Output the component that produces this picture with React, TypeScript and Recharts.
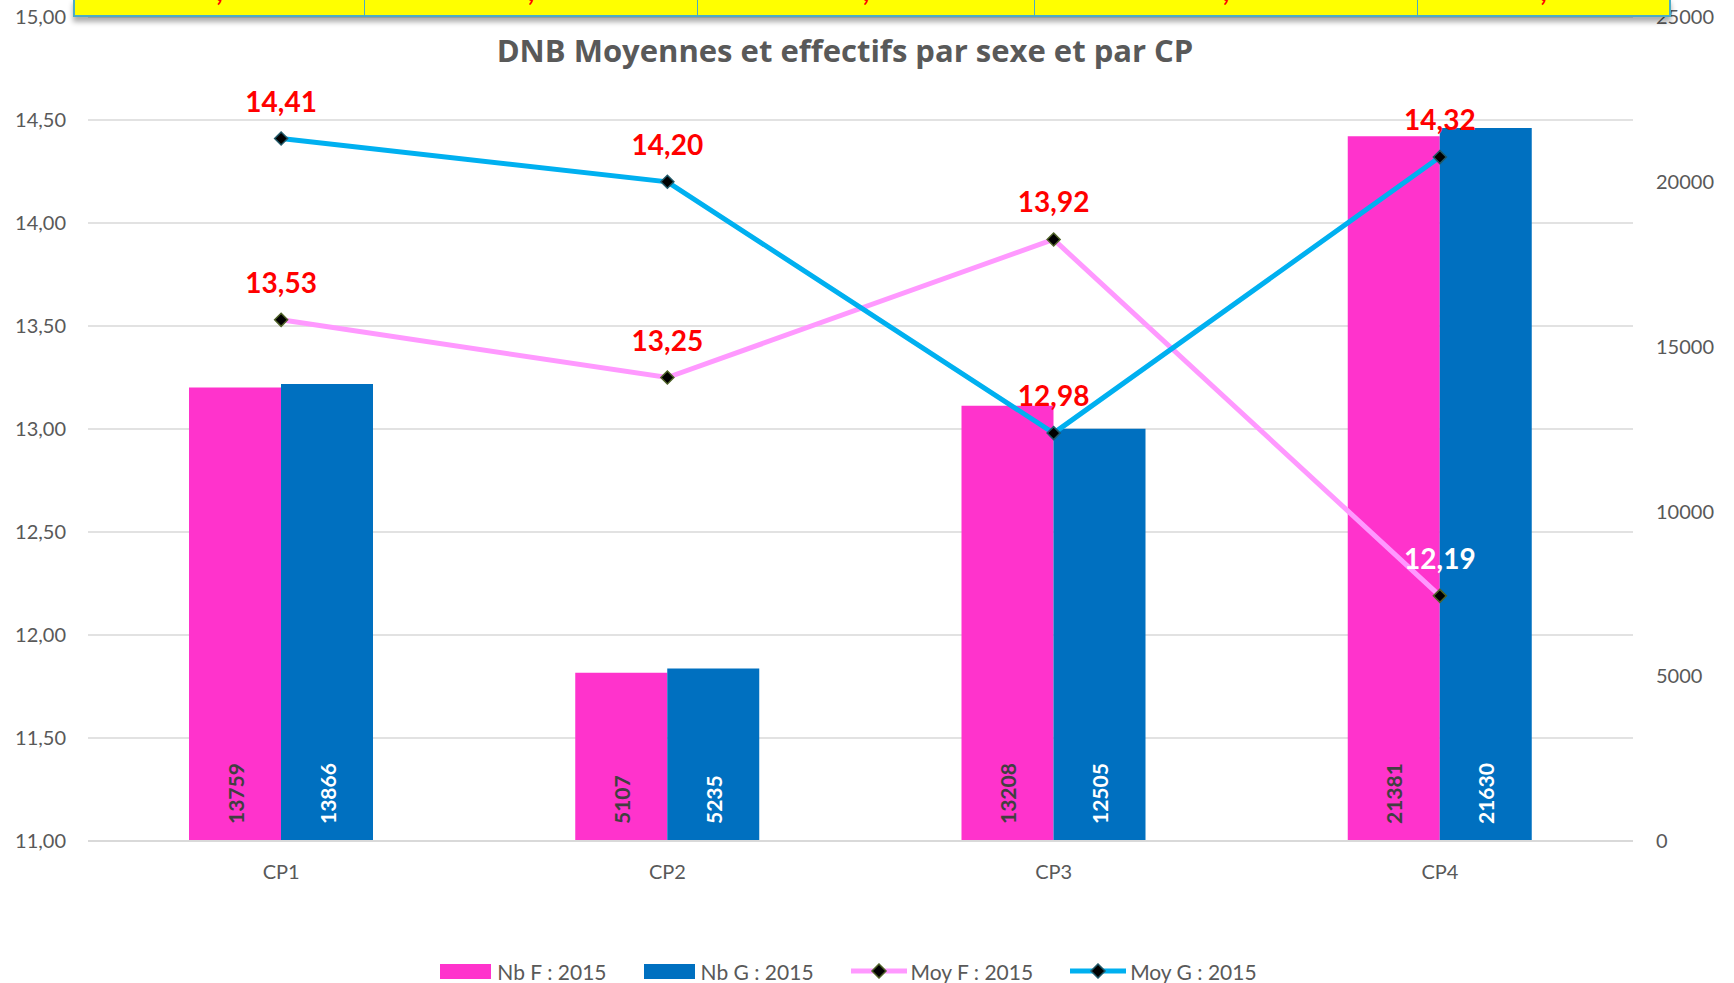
import React from "react";
import {
  ComposedChart,
  Bar,
  Line,
  XAxis,
  YAxis,
  CartesianGrid,
  LabelList,
  Legend,
} from "recharts";

const categories = ["CP1", "CP2", "CP3", "CP4"];
const nbF2015 = [13759, 5107, 13208, 21381];
const nbG2015 = [13866, 5235, 12505, 21630];
const moyF2015 = [13.53, 13.25, 13.92, 12.19];
const moyG2015 = [14.41, 14.2, 12.98, 14.32];
const leftTicks = [11, 11.5, 12, 12.5, 13, 13.5, 14, 14.5, 15];
const rightTicks = [0, 5000, 10000, 15000, 20000, 25000];

const data = categories.map((cp, i) => ({
  cp,
  nbF: nbF2015[i],
  nbG: nbG2015[i],
  moyF: moyF2015[i],
  moyG: moyG2015[i],
}));

const PINK = "#ff33cc";
const BLUE = "#0070c0";
const LIGHT_PINK = "#ff99ff";
const CYAN = "#00b0f0";
const GREY_TEXT = "#595959";
const FONT = "Lato, 'Open Sans', sans-serif";

const fmt = (v: number) => v.toFixed(2).replace(".", ",");

const diamond = (border: string) => (props: any) => {
  const { cx, cy, index } = props;
  if (cx == null || cy == null) return <g key={index} />;
  const r = 6.5;
  return (
    <polygon
      key={index}
      points={`${cx},${cy - r} ${cx + r},${cy} ${cx},${cy + r} ${cx - r},${cy}`}
      fill="#000"
      stroke={border}
      strokeWidth={1.5}
    />
  );
};

// red numbers above the points, last pink one is white
const lineLabel = (whiteIndex: number) => (props: any) => {
  const { x, y, value, index } = props;
  return (
    <text
      x={x}
      y={y - 27}
      textAnchor="middle"
      fill={index === whiteIndex ? "#ffffff" : "#ff0000"}
      fontSize={28}
      fontWeight={700}
      fontFamily={FONT}
    >
      {fmt(value)}
    </text>
  );
};

const barLabel = (color: string) => (props: any) => {
  const { x, y, width, height, value } = props;
  const cx = x + width / 2;
  const by = y + height - 17;
  return (
    <text
      x={cx}
      y={by}
      transform={`rotate(-90 ${cx} ${by})`}
      textAnchor="start"
      dominantBaseline="central"
      fill={color}
      fontSize={21}
      fontWeight={700}
      fontFamily={FONT}
    >
      {value}
    </text>
  );
};

const legendItems = [
  { name: "Nb F : 2015", color: PINK, kind: "bar", border: "" },
  { name: "Nb G : 2015", color: BLUE, kind: "bar", border: "" },
  { name: "Moy F : 2015", color: LIGHT_PINK, kind: "line", border: "#4f6228" },
  { name: "Moy G : 2015", color: CYAN, kind: "line", border: "#215968" },
];

const LegendContent = () => (
  <div
    style={{
      height: 24,
      display: "flex",
      justifyContent: "center",
      alignItems: "center",
      paddingLeft: 0,
      fontFamily: FONT,
      fontSize: 21,
      color: GREY_TEXT,
    }}
  >
    {legendItems.map((it) => (
      <div key={it.name} style={{ display: "flex", alignItems: "center", marginRight: 37 }}>
        {it.kind === "bar" ? (
          <div style={{ width: 51, height: 15, background: it.color, marginRight: 6 }} />
        ) : (
          <svg width={56} height={16} style={{ marginRight: 4 }}>
            <line x1={0} y1={8} x2={56} y2={8} stroke={it.color} strokeWidth={5} />
            <polygon points="28,1 35,8 28,15 21,8" fill="#000" stroke={it.border} strokeWidth={1.5} />
          </svg>
        )}
        <span style={{ whiteSpace: "nowrap" }}>{it.name}</span>
      </div>
    ))}
  </div>
);

// table strip cut off at the top of the picture
const bandCells = [289, 332, 336, 382, 251];

export default function App() {
  return (
    <div
      style={{
        position: "absolute",
        left: 0,
        top: 0,
        width: 1734,
        height: 983,
        overflow: "hidden",
        background: "#ffffff",
        fontFamily: FONT,
      }}
    >
      <ComposedChart
        width={1734}
        height={983}
        data={data}
        margin={{ top: 17, right: 0, bottom: 0, left: 0 }}
        barGap={0}
      >
        <CartesianGrid yAxisId="left" vertical={false} stroke="#d9d9d9" strokeWidth={1.5} />
        <XAxis
          dataKey="cp"
          height={118}
          tickLine={false}
          axisLine={{ stroke: "#d9d9d9", strokeWidth: 2 }}
          tickMargin={18}
          tick={{ fill: GREY_TEXT, fontSize: 20, fontFamily: FONT }}
        />
        <YAxis
          yAxisId="left"
          domain={[11, 15]}
          ticks={leftTicks}
          tickFormatter={fmt}
          width={88}
          tickLine={false}
          axisLine={false}
          tickMargin={16}
          tick={{ fill: GREY_TEXT, fontSize: 20, fontFamily: FONT }}
        />
        <YAxis
          yAxisId="right"
          orientation="right"
          domain={[0, 25000]}
          ticks={rightTicks}
          width={101}
          tickLine={false}
          axisLine={false}
          tickMargin={17}
          tick={{ fill: GREY_TEXT, fontSize: 20, fontFamily: FONT }}
        />
        <Legend verticalAlign="bottom" content={<LegendContent />} />
        <Bar yAxisId="right" dataKey="nbF" name="Nb F : 2015" fill={PINK} barSize={92} isAnimationActive={false}>
          <LabelList dataKey="nbF" content={barLabel("#404040")} />
        </Bar>
        <Bar yAxisId="right" dataKey="nbG" name="Nb G : 2015" fill={BLUE} barSize={92} isAnimationActive={false}>
          <LabelList dataKey="nbG" content={barLabel("#ffffff")} />
        </Bar>
        <Line
          yAxisId="left"
          type="linear"
          dataKey="moyF"
          name="Moy F : 2015"
          stroke={LIGHT_PINK}
          strokeWidth={5}
          dot={diamond("#4f6228")}
          activeDot={false}
          isAnimationActive={false}
        >
          <LabelList dataKey="moyF" content={lineLabel(3)} />
        </Line>
        <Line
          yAxisId="left"
          type="linear"
          dataKey="moyG"
          name="Moy G : 2015"
          stroke={CYAN}
          strokeWidth={5}
          dot={diamond("#215968")}
          activeDot={false}
          isAnimationActive={false}
        >
          <LabelList dataKey="moyG" content={lineLabel(-1)} />
        </Line>
      </ComposedChart>

      <div
        style={{
          position: "absolute",
          left: 0,
          top: 30,
          width: 1690,
          textAlign: "center",
          fontFamily: "'Open Sans', sans-serif",
          fontWeight: 700,
          fontSize: 31,
          lineHeight: "40px",
          color: GREY_TEXT,
        }}
      >
        DNB Moyennes et effectifs par sexe et par CP
      </div>

      <div
        style={{
          position: "absolute",
          left: 73,
          top: -2,
          height: 17,
          display: "flex",
          background: "#ffff00",
          border: "2px solid #4bacc6",
          borderTop: "none",
          boxShadow: "0 5px 5px rgba(0,0,0,0.32)",
          overflow: "hidden",
        }}
      >
        {bandCells.map((w, i) => (
          <div
            key={i}
            style={{
              width: w,
              height: 17,
              borderLeft: i === 0 ? "none" : "1px solid #4bacc6",
              position: "relative",
              overflow: "hidden",
            }}
          >
            <span
              style={{
                position: "absolute",
                left: 0,
                right: 0,
                top: -22,
                textAlign: "center",
                color: "#ff0000",
                fontWeight: 700,
                fontSize: 28,
                lineHeight: "28px",
              }}
            >
              ,
            </span>
          </div>
        ))}
      </div>
    </div>
  );
}
